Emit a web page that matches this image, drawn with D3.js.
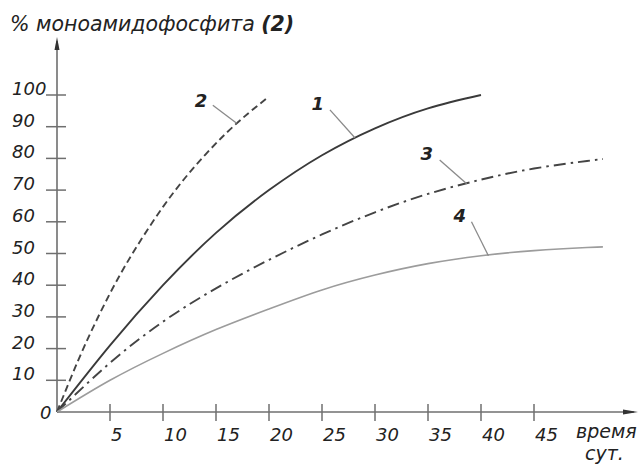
<!DOCTYPE html>
<html><head><meta charset="utf-8">
<script src="https://cdn.jsdelivr.net/npm/d3@7"></script>
<style>
html,body{margin:0;padding:0;background:#fff;}
svg{display:block;}
text{font-family:"DejaVu Sans",sans-serif;font-style:italic;fill:#222;}
</style></head>
<body><svg id="c" width="642" height="467"></svg>
<script>
// ---- data ----
const yTitle = "% моноамидофосфита ";
const yTitleBold = "(2)";
const xLabel1 = "время";
const xLabel2 = "сут.";
const xTicks = [5,10,15,20,25,30,35,40,45];
const yTicks = [10,20,30,40,50,60,70,80,90,100];

const days1 = [0,5,10,15,20,25,30,35,40];
const pct1  = [0,21,40,56.5,70,81,89.5,95.8,100];

const days2 = [0,2,4,6,8,10,12,14,16,18,20];
const pct2  = [0,16.3,30.8,43.6,54.7,64.7,73.5,81.2,88.1,94.1,99.5];

const days3 = [0,5,10,15,20,25,30,35,40,45,50,51.5];
const pct3  = [0,15.5,28.5,39,48,56,63,68.8,73.3,76.8,79.2,79.8];

const days4 = [0,5,10,15,20,25,30,35,40,45,50,51.5];
const pct4  = [0,10,18.5,26,32.5,38.5,43.2,46.8,49.3,50.9,51.9,52.1];

const seriesNames = ["1","2","3","4"];
// label anchor (data units): label position, leader start, leader end
const labelX = [24.0, 13.0, 34.3, 37.4];
const labelY = [95.3, 96.2, 79.5, 59.9];
const leadX0 = [25.75, 14.7, 36.1, 39.1];
const leadY0 = [95.3, 96.8, 79.5, 60.0];
const leadX1 = [28.1, 16.95, 38.65, 40.7];
const leadY1 = [86.5, 91.1, 72.0, 49.3];

// ---- drawing ----
const svg = d3.select("#c");
const x = d3.scaleLinear().domain([0,45]).range([57,534]);
const y = d3.scaleLinear().domain([0,100]).range([412,95]);
const axisColor = "#6f6f6f";

// title
const t = svg.append("text").attr("x",10).attr("y",31).style("font-size","20.5px");
t.append("tspan").text(yTitle);
t.append("tspan").style("font-weight","bold").text(yTitleBold);

// axes lines
const x0 = x(0), y0 = y(0);
const xEnd = 638, yTop = 37;
svg.append("line").attr("x1",x0).attr("x2",xEnd-4).attr("y1",y0).attr("y2",y0)
  .attr("stroke",axisColor).attr("stroke-width",1.6);
svg.append("line").attr("x1",x0).attr("x2",x0).attr("y1",y0).attr("y2",yTop+4)
  .attr("stroke",axisColor).attr("stroke-width",1.6);
// arrowheads
svg.append("path").attr("d",`M${xEnd},${y0} L${xEnd-15},${y0-2.5} L${xEnd-15},${y0+2.5} Z`).attr("fill","#333");
svg.append("path").attr("d",`M${x0},${yTop} L${x0-2.5},${yTop+13} L${x0+2.5},${yTop+13} Z`).attr("fill","#333");

// x ticks
svg.append("g").selectAll("line").data(xTicks).join("line")
  .attr("x1",d=>x(d)).attr("x2",d=>x(d)).attr("y1",y0-8).attr("y2",y0+9)
  .attr("stroke",axisColor).attr("stroke-width",1.5);
svg.append("g").selectAll("text").data(xTicks).join("text")
  .attr("x",d=>x(d)+1).attr("y",441).style("font-size","18px").text(d=>d);
// y ticks
svg.append("g").selectAll("line").data(yTicks).join("line")
  .attr("x1",x0-11).attr("x2",x0+9).attr("y1",d=>y(d)).attr("y2",d=>y(d))
  .attr("stroke",axisColor).attr("stroke-width",1.5);
svg.append("g").selectAll("text").data(yTicks).join("text")
  .attr("x",12).attr("y",d=>y(d)).style("font-size","18px").text(d=>d);
svg.append("text").attr("x",40).attr("y",y0+7).style("font-size","18px").text("0");

svg.append("text").attr("x",576).attr("y",438).style("font-size","19px").text(xLabel1);
svg.append("text").attr("x",585).attr("y",460).style("font-size","19px").text(xLabel2);

// curves
const line = d3.line().x(d=>x(d[0])).y(d=>y(d[1])).curve(d3.curveNatural);
const curves = [
  {xs:days1, ys:pct1, color:"#3a3a3a", w:1.9, dash:null},
  {xs:days2, ys:pct2, color:"#444", w:1.9, dash:"7,4"},
  {xs:days3, ys:pct3, color:"#444", w:1.9, dash:"12,5,2.5,5"},
  {xs:days4, ys:pct4, color:"#9c9c9c", w:1.6, dash:null}
];
curves.forEach(c=>{
  svg.append("path").datum(d3.zip(c.xs,c.ys)).attr("d",line)
    .attr("fill","none").attr("stroke",c.color).attr("stroke-width",c.w)
    .attr("stroke-dasharray",c.dash);
});

// labels and leaders
seriesNames.forEach((n,i)=>{
  svg.append("line").attr("x1",x(leadX0[i])).attr("y1",y(leadY0[i]))
    .attr("x2",x(leadX1[i])).attr("y2",y(leadY1[i]))
    .attr("stroke","#8a8a8a").attr("stroke-width",1.3);
  svg.append("text").attr("x",x(labelX[i])).attr("y",y(labelY[i]))
    .style("font-size","18px").style("font-weight","bold").text(n);
});
</script></body></html>
